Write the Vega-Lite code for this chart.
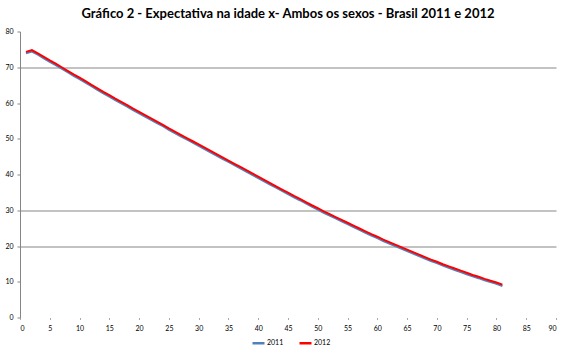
{
  "$schema": "https://vega.github.io/schema/vega-lite/v6.json",
  "autosize": "none",
  "width": 536,
  "height": 286,
  "padding": {"left": 20, "top": 31.5, "right": 12, "bottom": 37.5},
  "background": "white",
  "title": {
    "text": "Gráfico 2 - Expectativa na idade x- Ambos os sexos - Brasil 2011 e 2012",
    "font": "Lato",
    "fontSize": 13,
    "fontWeight": "bold",
    "color": "#000000",
    "anchor": "middle",
    "offset": 7
  },
  "config": {
    "view": {"stroke": null},
    "font": "Lato"
  },
  "data": {
    "values": [
      {"x": 1, "y2011": 73.9, "y2012": 74.3},
      {"x": 2, "y2011": 74.4, "y2012": 74.8},
      {"x": 3, "y2011": 73.5, "y2012": 73.9},
      {"x": 4, "y2011": 72.5, "y2012": 72.9},
      {"x": 5, "y2011": 71.5, "y2012": 71.9},
      {"x": 6, "y2011": 70.6, "y2012": 71.0},
      {"x": 7, "y2011": 69.6, "y2012": 70.0},
      {"x": 8, "y2011": 68.6, "y2012": 69.0},
      {"x": 9, "y2011": 67.6, "y2012": 68.0},
      {"x": 10, "y2011": 66.7, "y2012": 67.1},
      {"x": 11, "y2011": 65.7, "y2012": 66.1},
      {"x": 12, "y2011": 64.7, "y2012": 65.1},
      {"x": 13, "y2011": 63.7, "y2012": 64.1},
      {"x": 14, "y2011": 62.7, "y2012": 63.1},
      {"x": 15, "y2011": 61.8, "y2012": 62.2},
      {"x": 16, "y2011": 60.8, "y2012": 61.2},
      {"x": 17, "y2011": 59.9, "y2012": 60.3},
      {"x": 18, "y2011": 59.0, "y2012": 59.4},
      {"x": 19, "y2011": 58.0, "y2012": 58.4},
      {"x": 20, "y2011": 57.1, "y2012": 57.5},
      {"x": 21, "y2011": 56.2, "y2012": 56.6},
      {"x": 22, "y2011": 55.3, "y2012": 55.7},
      {"x": 23, "y2011": 54.4, "y2012": 54.8},
      {"x": 24, "y2011": 53.5, "y2012": 53.9},
      {"x": 25, "y2011": 52.5, "y2012": 52.9},
      {"x": 26, "y2011": 51.6, "y2012": 52.0},
      {"x": 27, "y2011": 50.7, "y2012": 51.1},
      {"x": 28, "y2011": 49.8, "y2012": 50.2},
      {"x": 29, "y2011": 48.9, "y2012": 49.3},
      {"x": 30, "y2011": 48.0, "y2012": 48.4},
      {"x": 31, "y2011": 47.1, "y2012": 47.5},
      {"x": 32, "y2011": 46.2, "y2012": 46.6},
      {"x": 33, "y2011": 45.3, "y2012": 45.7},
      {"x": 34, "y2011": 44.4, "y2012": 44.8},
      {"x": 35, "y2011": 43.5, "y2012": 43.9},
      {"x": 36, "y2011": 42.6, "y2012": 43.0},
      {"x": 37, "y2011": 41.7, "y2012": 42.1},
      {"x": 38, "y2011": 40.8, "y2012": 41.2},
      {"x": 39, "y2011": 39.9, "y2012": 40.3},
      {"x": 40, "y2011": 39.0, "y2012": 39.4},
      {"x": 41, "y2011": 38.1, "y2012": 38.5},
      {"x": 42, "y2011": 37.2, "y2012": 37.6},
      {"x": 43, "y2011": 36.3, "y2012": 36.7},
      {"x": 44, "y2011": 35.4, "y2012": 35.8},
      {"x": 45, "y2011": 34.5, "y2012": 34.9},
      {"x": 46, "y2011": 33.6, "y2012": 34.0},
      {"x": 47, "y2011": 32.8, "y2012": 33.2},
      {"x": 48, "y2011": 31.9, "y2012": 32.3},
      {"x": 49, "y2011": 31.0, "y2012": 31.4},
      {"x": 50, "y2011": 30.2, "y2012": 30.6},
      {"x": 51, "y2011": 29.3, "y2012": 29.7},
      {"x": 52, "y2011": 28.5, "y2012": 28.9},
      {"x": 53, "y2011": 27.7, "y2012": 28.1},
      {"x": 54, "y2011": 26.9, "y2012": 27.3},
      {"x": 55, "y2011": 26.1, "y2012": 26.5},
      {"x": 56, "y2011": 25.3, "y2012": 25.7},
      {"x": 57, "y2011": 24.5, "y2012": 24.9},
      {"x": 58, "y2011": 23.7, "y2012": 24.1},
      {"x": 59, "y2011": 22.9, "y2012": 23.3},
      {"x": 60, "y2011": 22.2, "y2012": 22.6},
      {"x": 61, "y2011": 21.4, "y2012": 21.8},
      {"x": 62, "y2011": 20.7, "y2012": 21.1},
      {"x": 63, "y2011": 20.0, "y2012": 20.4},
      {"x": 64, "y2011": 19.3, "y2012": 19.7},
      {"x": 65, "y2011": 18.6, "y2012": 19.0},
      {"x": 66, "y2011": 17.9, "y2012": 18.3},
      {"x": 67, "y2011": 17.2, "y2012": 17.6},
      {"x": 68, "y2011": 16.5, "y2012": 16.9},
      {"x": 69, "y2011": 15.8, "y2012": 16.2},
      {"x": 70, "y2011": 15.2, "y2012": 15.6},
      {"x": 71, "y2011": 14.5, "y2012": 14.9},
      {"x": 72, "y2011": 13.9, "y2012": 14.3},
      {"x": 73, "y2011": 13.3, "y2012": 13.7},
      {"x": 74, "y2011": 12.7, "y2012": 13.1},
      {"x": 75, "y2011": 12.1, "y2012": 12.5},
      {"x": 76, "y2011": 11.5, "y2012": 11.9},
      {"x": 77, "y2011": 11.0, "y2012": 11.4},
      {"x": 78, "y2011": 10.4, "y2012": 10.8},
      {"x": 79, "y2011": 9.9, "y2012": 10.3},
      {"x": 80, "y2011": 9.4, "y2012": 9.8},
      {"x": 81, "y2011": 8.8, "y2012": 9.2}
    ]
  },
  "transform": [
    {"fold": ["y2011", "y2012"], "as": ["key", "value"]},
    {"calculate": "datum.key === 'y2011' ? '2011' : '2012'", "as": "serie"}
  ],
  "mark": {"type": "line", "strokeWidth": 2, "interpolate": "linear"},
  "encoding": {
    "x": {
      "field": "x",
      "type": "quantitative",
      "scale": {"domain": [0, 90], "nice": false, "zero": true},
      "axis": {
        "title": null,
        "values": [0, 5, 10, 15, 20, 25, 30, 35, 40, 45, 50, 55, 60, 65, 70, 75, 80, 85, 90],
        "grid": false,
        "domain": false,
        "ticks": true,
        "tickSize": 2,
        "tickColor": "#aaaaaa",
        "labelFontSize": 7,
        "labelColor": "#000000",
        "labelPadding": 5,
        "labelFont": "Lato"
      }
    },
    "y": {
      "field": "value",
      "type": "quantitative",
      "scale": {"domain": [0, 80], "nice": false},
      "axis": {
        "title": null,
        "values": [0, 10, 20, 30, 40, 50, 60, 70, 80],
        "grid": true,
        "gridColor": {
          "condition": {"test": "datum.value === 20 || datum.value === 30 || datum.value === 70", "value": "#868686"},
          "value": "rgba(0,0,0,0)"
        },
        "gridWidth": 1,
        "domain": true,
        "domainColor": "#868686",
        "ticks": true,
        "tickSize": 3,
        "tickColor": "#868686",
        "labelFontSize": 7,
        "labelColor": "#000000",
        "labelPadding": 4,
        "labelFont": "Lato"
      }
    },
    "color": {
      "field": "serie",
      "type": "nominal",
      "scale": {"domain": ["2011", "2012"], "range": ["#4F81BD", "#FF0000"]},
      "legend": {
        "title": null,
        "orient": "none",
        "legendX": 231,
        "legendY": 304,
        "padding": 0,
        "direction": "horizontal",
        "symbolType": "stroke",
        "symbolSize": 144,
        "symbolStrokeWidth": 2.5,
        "labelFontSize": 7,
        "labelColor": "#000000",
        "labelFont": "Lato",
        "labelOffset": 1,
        "columnPadding": 10
      }
    },
    "order": {"field": "serie"}
  }
}
